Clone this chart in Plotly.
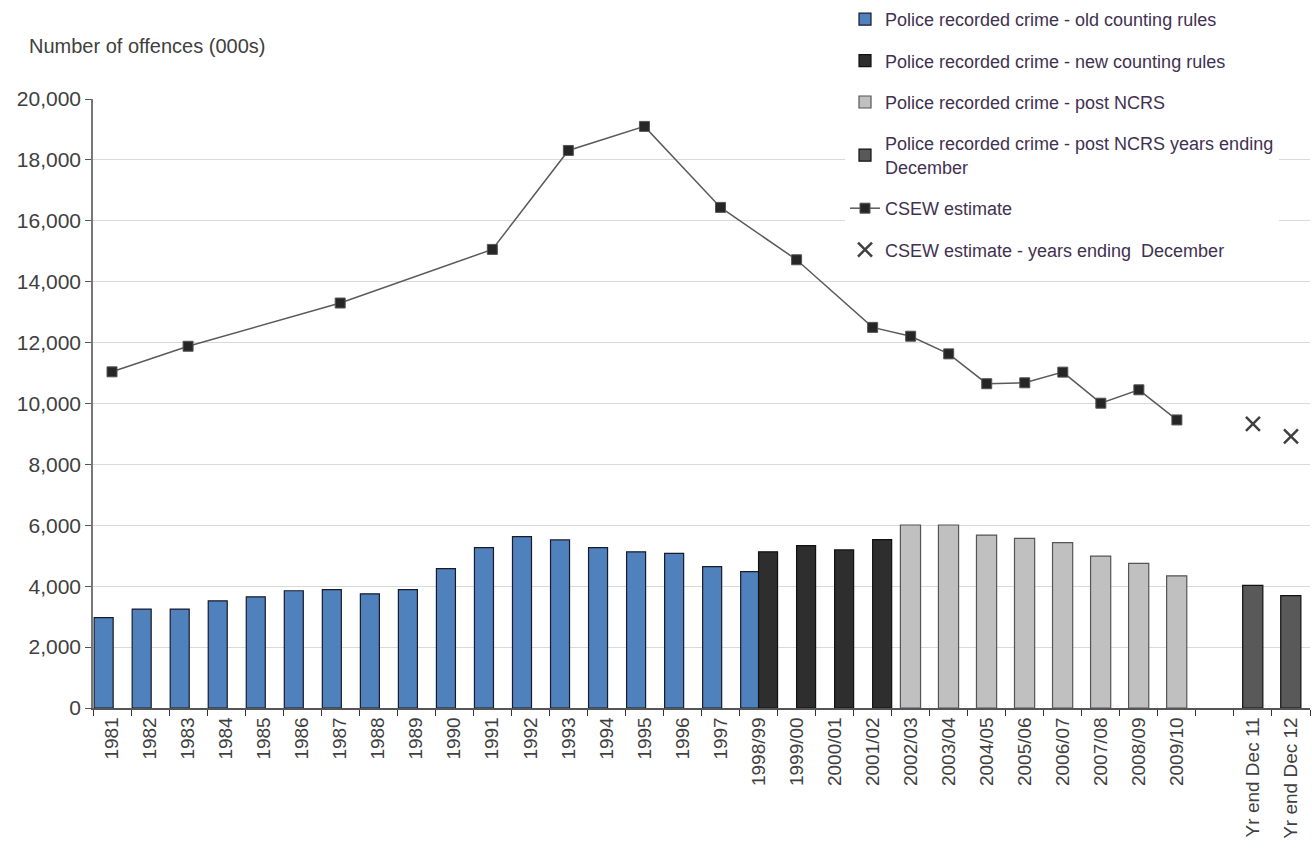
import plotly.graph_objects as go

categories = ["1981", "1982", "1983", "1984", "1985", "1986", "1987", "1988", "1989",
              "1990", "1991", "1992", "1993", "1994", "1995", "1996", "1997", "1998/99",
              "1999/00", "2000/01", "2001/02", "2002/03", "2003/04", "2004/05", "2005/06",
              "2006/07", "2007/08", "2008/09", "2009/10", " ", "Yr end Dec 11", "Yr end Dec 12"]

old_rules_x = ["1981", "1982", "1983", "1984", "1985", "1986", "1987", "1988", "1989",
               "1990", "1991", "1992", "1993", "1994", "1995", "1996", "1997", "1998/99"]
old_rules_y = [2967, 3250, 3250, 3520, 3650, 3850, 3890, 3750, 3890,
               4580, 5270, 5630, 5520, 5270, 5130, 5080, 4640, 4480]

new_rules_x = ["1998/99", "1999/00", "2000/01", "2001/02"]
new_rules_y = [5130, 5330, 5190, 5530]

post_ncrs_x = ["2002/03", "2003/04", "2004/05", "2005/06", "2006/07", "2007/08", "2008/09", "2009/10"]
post_ncrs_y = [6010, 6010, 5680, 5570, 5430, 4990, 4750, 4340]

post_ncrs_dec_x = ["Yr end Dec 11", "Yr end Dec 12"]
post_ncrs_dec_y = [4030, 3690]

csew_x = ["1981", "1983", "1987", "1991", "1993", "1995", "1997", "1999/00", "2001/02",
          "2002/03", "2003/04", "2004/05", "2005/06", "2006/07", "2007/08", "2008/09", "2009/10"]
csew_y = [11040, 11880, 13300, 15060, 18310, 19100, 16440, 14720, 12500,
          12210, 11630, 10650, 10680, 11030, 10010, 10450, 9460]

csew_dec_x = ["Yr end Dec 11", "Yr end Dec 12"]
csew_dec_y = [9330, 8920]

FONT = "Liberation Sans, Arial, sans-serif"
TXT = "#404040"
LEG = "#3f3150"

fig = go.Figure()
fig.add_trace(go.Bar(x=old_rules_x, y=old_rules_y, name="Police recorded crime - old counting rules",
                     marker=dict(color="#4f81bd", line=dict(color="#1a1a2a", width=1.2)),
                     offset=-0.47, width=0.5, legendgroup="a"))
fig.add_trace(go.Bar(x=new_rules_x, y=new_rules_y, name="Police recorded crime - new counting rules",
                     marker=dict(color="#2e2e2e", line=dict(color="#111111", width=1.2)),
                     offset=0.0, width=0.5, legendgroup="b"))
fig.add_trace(go.Bar(x=post_ncrs_x, y=post_ncrs_y, name="Police recorded crime - post NCRS",
                     marker=dict(color="#c0c0c0", line=dict(color="#555555", width=1.2)),
                     offset=-0.27, width=0.53, legendgroup="c"))
fig.add_trace(go.Bar(x=post_ncrs_dec_x, y=post_ncrs_dec_y,
                     name="Police recorded crime - post NCRS years ending<br>December",
                     marker=dict(color="#595959", line=dict(color="#111111", width=1.2)),
                     offset=-0.27, width=0.53, legendgroup="d"))
fig.add_trace(go.Scatter(x=csew_x, y=csew_y, name="CSEW estimate", mode="lines+markers",
                         line=dict(color="#5a5a5a", width=1.5),
                         marker=dict(symbol="square", size=10, color="#262626",
                                     line=dict(color="#555555", width=1)),
                         legendgroup="e"))
fig.add_trace(go.Scatter(x=csew_dec_x, y=csew_dec_y, name="CSEW estimate - years ending  December",
                         mode="markers",
                         marker=dict(symbol="x-thin", size=14, color="#404040",
                                     line=dict(color="#404040", width=2.5)),
                         legendgroup="f"))

plot_w = 1312 - 93 - 2
plot_h = 859 - 98 - 151

fig.update_layout(
    width=1312, height=859,
    margin=dict(l=93, r=2, t=98, b=151),
    paper_bgcolor="white", plot_bgcolor="white",
    barmode="overlay",
    font=dict(family=FONT, color=TXT),
    showlegend=True,
    legend=dict(x=(845 - 93) / plot_w, y=(859 - 151 - 1) / plot_h, xanchor="left", yanchor="top",
                bgcolor="white", traceorder="grouped", tracegroupgap=15,
                font=dict(size=18, color=LEG, family=FONT), itemwidth=30),
    annotations=[dict(text="Number of offences (000s)",
                      x=(27 - 93) / plot_w, y=(859 - 151 - 45) / plot_h,
                      xref="paper", yref="paper",
                      showarrow=False, font=dict(size=20, color=TXT, family=FONT),
                      xanchor="left", yanchor="middle")],
)

fig.update_xaxes(type="category", categoryorder="array", categoryarray=categories,
                 tickmode="array", tickvals=categories, ticktext=categories,
                 tickangle=-90, tickson="boundaries", ticks="outside", ticklen=6,
                 tickcolor="#333333", showline=True, linecolor="#555555", linewidth=1.5,
                 tickfont=dict(size=19, color=TXT, family=FONT), showgrid=False,
                 range=[-0.5, len(categories) - 0.5])
fig.update_yaxes(range=[0, 20000], dtick=2000, tickformat=",", ticks="outside", ticklen=6,
                 tickcolor="#555555", showline=True, linecolor="#777777", linewidth=1.5,
                 gridcolor="#d9d9d9", gridwidth=1.2, zeroline=False,
                 tickfont=dict(size=21, color=TXT, family=FONT))

fig.write_html("out.html")
